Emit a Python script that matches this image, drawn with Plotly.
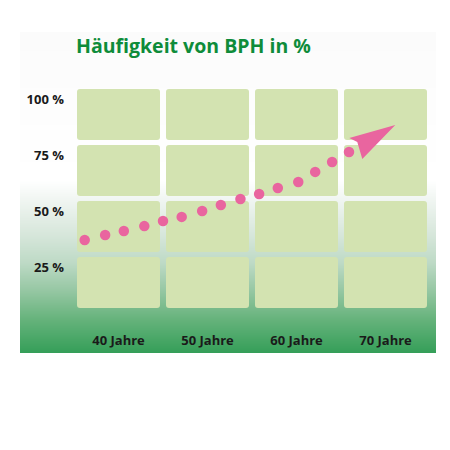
import base64, struct, zlib
import numpy as np
import plotly.graph_objects as go

# ---------------- data ----------------
age_categories = [40, 50, 60, 70]
age_labels = ["40 Jahre", "50 Jahre", "60 Jahre", "70 Jahre"]
pct_ticks = [25, 50, 75, 100]
pct_labels = ["25 %", "50 %", "75 %", "100 %"]

dot_ages = [36.2, 38.5, 40.6, 42.9, 45.0, 47.1, 49.4, 51.5, 53.7, 55.8, 57.9, 60.2, 62.1, 64.0, 65.9]
dot_pcts = [37.4, 39.6, 41.4, 43.6, 45.9, 47.7, 50.3, 53.0, 55.7, 57.9, 60.6, 63.3, 67.8, 72.2, 76.7]
arrow_tip_age = [71.1]
arrow_tip_pct = [88.7]

title_text = "Häufigkeit von BPH in %"

# ---------------- layout geometry / style ----------------
W = H = 450
ML, MB = 70, 122
PX_YEAR = 8.9      # pixels per year
PX_PCT = 2.24      # pixels per percent
X_RANGE = [40 - (118.5 - ML) / PX_YEAR, 40 + (W - 118.5) / PX_YEAR]
Y_RANGE = [(323.75 - (H - MB)) / PX_PCT, 323.75 / PX_PCT]

CELL = "#d3e3b1"
PINK = "#e9659f"
GREEN_T = "#0e8c3a"
FONT = "Open Sans"

# gradient background image
def make_png(rows, width=4):
    raw = b"".join(b"\x00" + bytes(r) * width for r in rows)
    def chunk(t, d):
        c = struct.pack(">I", len(d)) + t + d
        return c + struct.pack(">I", zlib.crc32(t + d) & 0xFFFFFFFF)
    ihdr = struct.pack(">IIBBBBB", width, len(rows), 8, 2, 0, 0, 0)
    return (b"\x89PNG\r\n\x1a\n" + chunk(b"IHDR", ihdr)
            + chunk(b"IDAT", zlib.compress(raw)) + chunk(b"IEND", b""))

BG_TOP, BG_BOT, BG_L, BG_R = 32, 353, 20, 436
stops_y = [32, 180, 205, 235, 262, 290, 320, 353]
stops_c = [(251, 251, 251), (255, 255, 255), (236, 243, 238), (214, 230, 218),
           (190, 218, 198), (150, 199, 163), (100, 178, 122), (52, 158, 88)]
ys = np.arange(BG_TOP, BG_BOT)
rows = []
for y in ys:
    rows.append(tuple(int(round(np.interp(y, stops_y, [c[i] for c in stops_c]))) for i in range(3)))
png_uri = "data:image/png;base64," + base64.b64encode(make_png(rows)).decode()

plot_w = W - ML
plot_h = H - MB

fig = go.Figure()

# cells (rounded rectangles) built from the category grid
HALF_W = 41.5 / PX_YEAR
TOP_OFF, BOT_OFF = 4.8, -18.0
R = 3.0
rx, ry = R / PX_YEAR, R / PX_PCT
shapes = []
for a in age_categories:
    for p in pct_ticks:
        x0, x1 = a - HALF_W, a + HALF_W
        y0, y1 = p + BOT_OFF, p + TOP_OFF
        path = (f"M{x0+rx},{y1} L{x1-rx},{y1} Q{x1},{y1} {x1},{y1-ry} "
                f"L{x1},{y0+ry} Q{x1},{y0} {x1-rx},{y0} L{x0+rx},{y0} "
                f"Q{x0},{y0} {x0},{y0+ry} L{x0},{y1-ry} Q{x0},{y1} {x0+rx},{y1} Z")
        shapes.append(dict(type="path", path=path, xref="x", yref="y",
                           fillcolor=CELL, line=dict(width=0), layer="below"))

# dots
fig.add_trace(go.Scatter(x=dot_ages, y=dot_pcts, mode="markers",
                         marker=dict(size=10.5, color=PINK, line=dict(width=0)),
                         hoverinfo="skip", showlegend=False))

# arrow head (offsets in pixels relative to tip)
offs = [(0, 0), (-46, 13), (-38, 17), (-33, 34), (0, 0)]
ax = [arrow_tip_age[0] + dx / PX_YEAR for dx, dy in offs]
ay = [arrow_tip_pct[0] - dy / PX_PCT for dx, dy in offs]
fig.add_trace(go.Scatter(x=ax, y=ay, mode="lines", fill="toself", fillcolor=PINK,
                         line=dict(width=0, color=PINK), hoverinfo="skip", showlegend=False))

fig.update_layout(
    width=W, height=H,
    margin=dict(l=ML, r=0, t=0, b=MB, pad=0),
    paper_bgcolor="white", plot_bgcolor="rgba(0,0,0,0)",
    shapes=shapes,
    images=[dict(source=png_uri, xref="paper", yref="paper",
                 x=(BG_L - ML) / plot_w, y=1 - BG_TOP / plot_h,
                 sizex=(BG_R - BG_L) / plot_w, sizey=(BG_BOT - BG_TOP) / plot_h,
                 xanchor="left", yanchor="top", sizing="stretch", layer="below")],
    title=dict(text=title_text, x=76 / W, xanchor="left", xref="container",
               y=1 - 46 / H, yanchor="middle", yref="container",
               font=dict(family=FONT, size=19.5, color=GREEN_T, weight="bold")),
    xaxis=dict(range=X_RANGE, showgrid=False, zeroline=False, showline=False,
               tickvals=age_categories, ticktext=age_labels, ticks="",
               ticklabelstandoff=3,
               tickfont=dict(family=FONT, size=13, color="#1a1a1a", weight="bold"),
               fixedrange=True),
    yaxis=dict(range=Y_RANGE, showgrid=False, zeroline=False, showline=False,
               tickvals=pct_ticks, ticktext=pct_labels, ticks="",
               ticklabelstandoff=5,
               tickfont=dict(family=FONT, size=13, color="#1a1a1a", weight="bold"),
               fixedrange=True),
)

fig.write_html("out.html")
